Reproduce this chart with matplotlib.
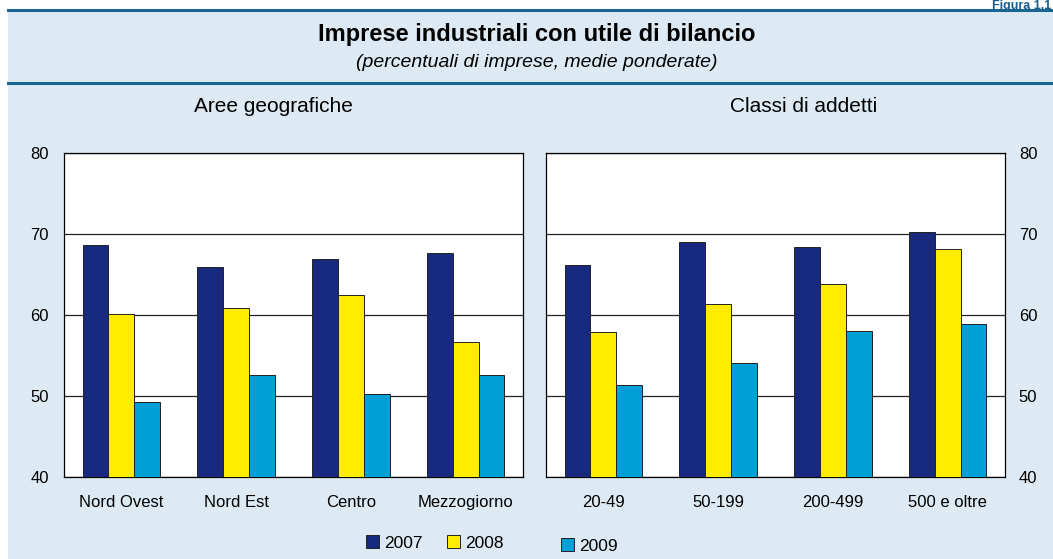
import numpy as np
import matplotlib.pyplot as plt
from matplotlib.patches import Rectangle, Patch
from matplotlib.lines import Line2D

plt.rcParams['font.family'] = ['Liberation Sans', 'DejaVu Sans']

# Data
years = ["2007", "2008", "2009"]
aree = ["Nord Ovest", "Nord Est", "Centro", "Mezzogiorno"]
aree_2007 = [68.7, 65.9, 66.9, 67.6]
aree_2008 = [60.1, 60.9, 62.5, 56.7]
aree_2009 = [49.2, 52.6, 50.3, 52.6]
classi = ["20-49", "50-199", "200-499", "500 e oltre"]
classi_2007 = [66.2, 69.0, 68.4, 70.3]
classi_2008 = [57.9, 61.4, 63.8, 68.2]
classi_2009 = [51.4, 54.1, 58.0, 58.9]

colors = ["#172A80", "#FFEC00", "#009FD6"]
bg = "#DDEAF3"
line_col = "#1A6592"

W, H = 1053, 559
fig = plt.figure(figsize=(W / 100, H / 100), dpi=100)
fig.patch.set_facecolor("white")

# Light blue panel and the two dark rules
fig.patches.append(Rectangle((8 / W, 0), 1 - 8 / W, 1 - 10 / H, transform=fig.transFigure,
                             facecolor=bg, edgecolor="none", zorder=-2))
for yy in (10, 83):
    fig.lines.append(Line2D([8 / W, 1], [1 - yy / H, 1 - yy / H], transform=fig.transFigure,
                            color=line_col, lw=2.2, zorder=-1))

fig.text(1051 / W, 1, "Figura 1.1", color="#1A5E8E", fontsize=9,
         fontweight="bold", va="top", ha="right")
fig.text(537 / W, 1 - 35 / H, "Imprese industriali con utile di bilancio",
         fontsize=17, fontweight="bold", ha="center", va="center")
fig.text(537 / W, 1 - 62 / H, "(percentuali di imprese, medie ponderate)",
         fontsize=14, style="italic", ha="center", va="center")
fig.text(273 / W, 1 - 106 / H, "Aree geografiche", fontsize=15, ha="center", va="center")
fig.text(804 / W, 1 - 106 / H, "Classi di addetti", fontsize=15, ha="center", va="center")

ax_l = fig.add_axes([64 / W, 1 - 477 / H, 459 / W, 324 / H])
ax_r = fig.add_axes([546 / W, 1 - 477 / H, 459 / W, 324 / H])

width = 0.225
panels = [
    (ax_l, aree, [aree_2007, aree_2008, aree_2009], "left"),
    (ax_r, classi, [classi_2007, classi_2008, classi_2009], "right"),
]
for ax, cats, series, side in panels:
    x = np.arange(len(cats))
    for k, vals in enumerate(series):
        ax.bar(x + (k - 1) * width, vals, width, color=colors[k], edgecolor="#222222",
               linewidth=0.7, zorder=3)
    ax.set_xlim(-0.5, len(cats) - 0.5)
    ax.set_ylim(40, 80)
    ax.set_yticks([40, 50, 60, 70, 80])
    ax.set_xticks(x)
    ax.set_xticklabels(cats)
    ax.set_facecolor("white")
    ax.grid(axis="y", color="#222222", lw=0.9, zorder=1)
    ax.set_axisbelow(True)
    for sp in ax.spines.values():
        sp.set_color("black")
        sp.set_linewidth(0.9)
    ax.tick_params(axis="x", length=0, pad=13, labelsize=12)
    if side == "left":
        ax.tick_params(axis="y", length=0, pad=11, labelsize=12)
    else:
        ax.yaxis.tick_right()
        ax.tick_params(axis="y", length=0, pad=10, labelsize=12)

# Legend: three separate entries, placed as in the reference
leg_pos = [(366, 543), (447, 543), (561, 546)]
for k, yr in enumerate(years):
    h = Patch(facecolor=colors[k], edgecolor="#222222", linewidth=0.7)
    lg = fig.legend(handles=[h], labels=[yr], loc="center left",
                    bbox_to_anchor=(leg_pos[k][0] / W, 1 - leg_pos[k][1] / H),
                    frameon=False, fontsize=12.5, handlelength=0.72, handleheight=0.72,
                    handletextpad=0.3, borderpad=0, borderaxespad=0)

fig.savefig("out.png", dpi=100)
